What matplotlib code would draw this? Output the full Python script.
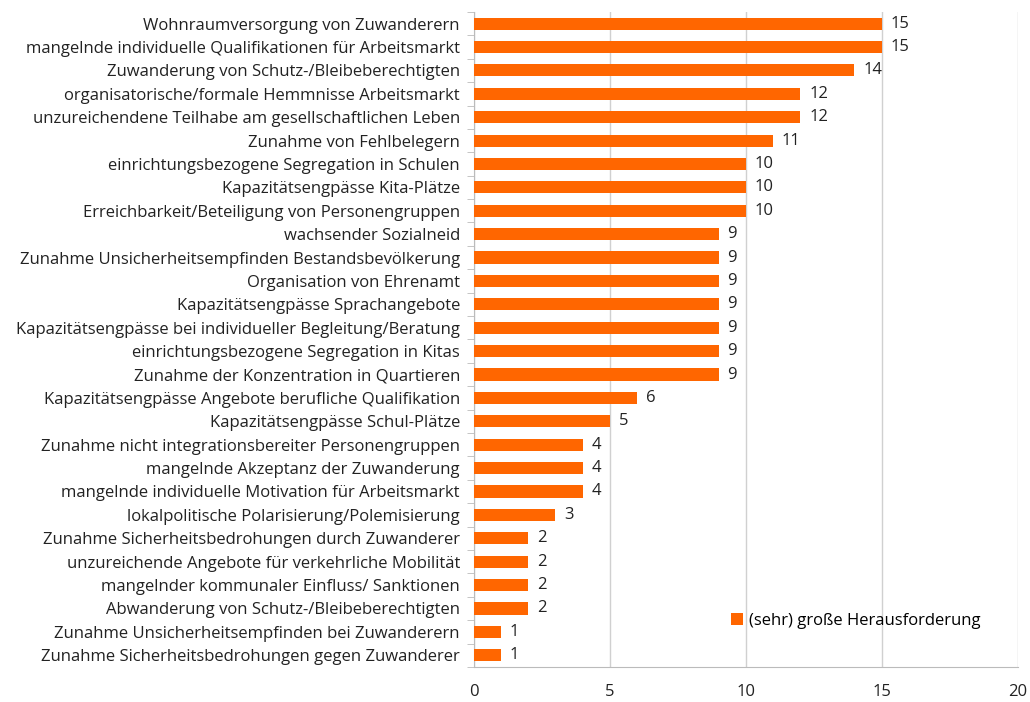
import matplotlib.pyplot as plt

labels = [
    "Wohnraumversorgung von Zuwanderern",
    "mangelnde individuelle Qualifikationen für Arbeitsmarkt",
    "Zuwanderung von Schutz-/Bleibeberechtigten",
    "organisatorische/formale Hemmnisse Arbeitsmarkt",
    "unzureichendene Teilhabe am gesellschaftlichen Leben",
    "Zunahme von Fehlbelegern",
    "einrichtungsbezogene Segregation in Schulen",
    "Kapazitätsengpässe Kita-Plätze",
    "Erreichbarkeit/Beteiligung von Personengruppen",
    "wachsender Sozialneid",
    "Zunahme Unsicherheitsempfinden Bestandsbevölkerung",
    "Organisation von Ehrenamt",
    "Kapazitätsengpässe Sprachangebote",
    "Kapazitätsengpässe bei individueller Begleitung/Beratung",
    "einrichtungsbezogene Segregation in Kitas",
    "Zunahme der Konzentration in Quartieren",
    "Kapazitätsengpässe Angebote berufliche Qualifikation",
    "Kapazitätsengpässe Schul-Plätze",
    "Zunahme nicht integrationsbereiter Personengruppen",
    "mangelnde Akzeptanz der Zuwanderung",
    "mangelnde individuelle Motivation für Arbeitsmarkt",
    "lokalpolitische Polarisierung/Polemisierung",
    "Zunahme Sicherheitsbedrohungen durch Zuwanderer",
    "unzureichende Angebote für verkehrliche Mobilität",
    "mangelnder kommunaler Einfluss/ Sanktionen",
    "Abwanderung von Schutz-/Bleibeberechtigten",
    "Zunahme Unsicherheitsempfinden bei Zuwanderern",
    "Zunahme Sicherheitsbedrohungen gegen Zuwanderer",
]
values = [15, 15, 14, 12, 12, 11, 10, 10, 10, 9, 9, 9, 9, 9, 9, 9, 6, 5, 4, 4, 4, 3, 2, 2, 2, 2, 1, 1]

plt.rcParams["font.family"] = ["Open Sans", "DejaVu Sans"]

fig = plt.figure(figsize=(10.3, 7.02), dpi=100)
ax = fig.add_axes([0.460, 0.050, 0.528, 0.933])

n = len(labels)
ypos = list(range(n))[::-1]
ax.barh(ypos, values, height=0.52, color="#FF6600", label="(sehr) große Herausforderung", zorder=3)
for y, v in zip(ypos, values):
    ax.text(v + 0.33, y, str(v), va="center", ha="left", fontsize=12, color="#222222")

ax.set_yticks(ypos)
ax.set_yticklabels(labels, fontsize=12, color="#222222")
ax.set_ylim(-0.5, n - 0.5)
ax.set_xlim(0, 20)
ax.set_xticks([0, 5, 10, 15, 20])
ax.tick_params(axis="x", labelsize=12, colors="#222222", length=0, pad=12)
ax.tick_params(axis="y", length=0, pad=10)
# minor ticks between categories on the y axis
ax.set_yticks([i + 0.5 for i in range(-1, n)], minor=True)
ax.tick_params(axis="y", which="minor", length=5, color="#bbbbbb", direction="out")
ax.grid(axis="x", color="#d0d0d0", linewidth=1, zorder=0)
for s in ["top", "right"]:
    ax.spines[s].set_visible(False)
ax.spines["left"].set_color("#bbbbbb")
ax.spines["bottom"].set_color("#bbbbbb")

ax.legend(loc="center right", bbox_to_anchor=(0.96, 0.07), frameon=False, fontsize=12,
          handlelength=0.7, handleheight=0.7, handletextpad=0.4)

fig.savefig("out.png", dpi=100)
